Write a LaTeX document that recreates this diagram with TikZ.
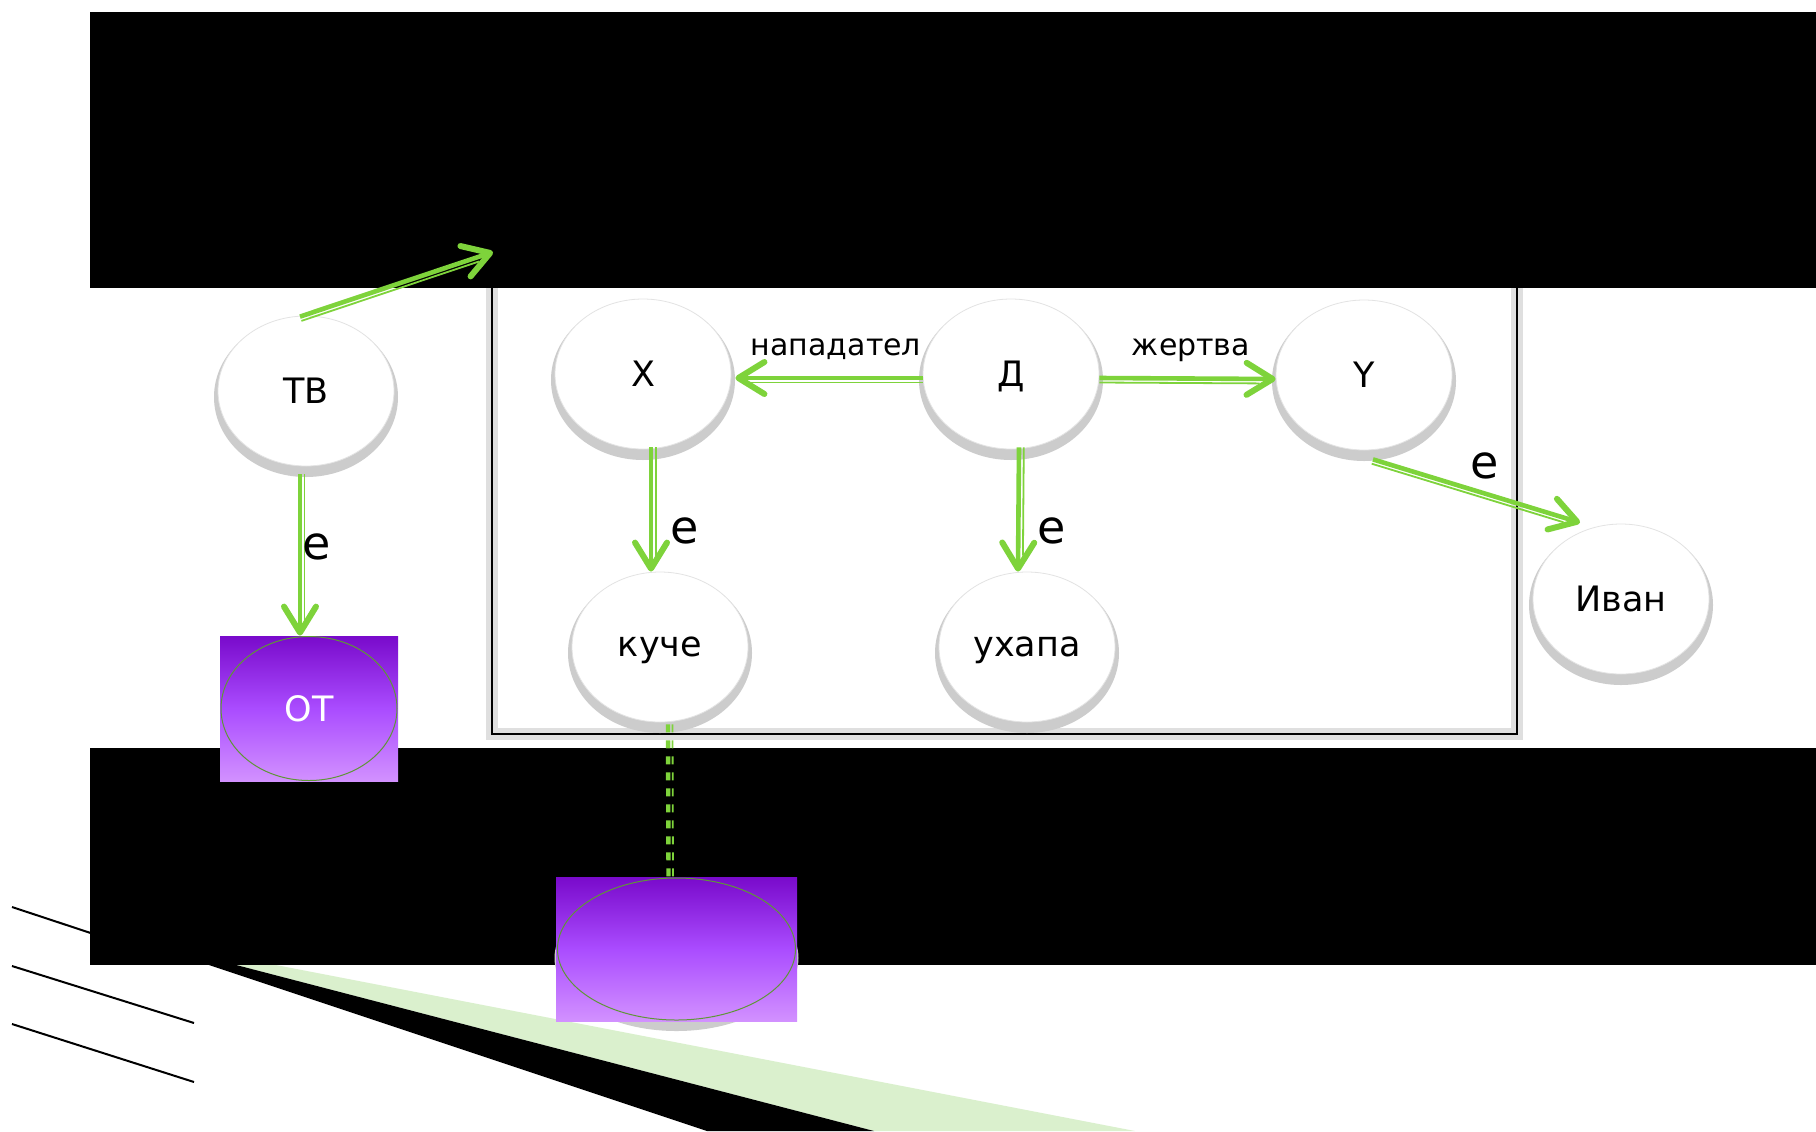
\documentclass[tikz,border=0pt]{standalone}
\usepackage{fontspec}
\setmainfont{DejaVu Sans}
\usetikzlibrary{arrows.meta,calc,shapes.geometric}

\definecolor{lgreen}{RGB}{126,211,59}
\definecolor{ringgreen}{RGB}{95,150,55}
\definecolor{pTop}{RGB}{121,10,203}
\definecolor{pMid}{RGB}{170,76,255}
\definecolor{pBot}{RGB}{210,145,255}
\definecolor{wedgegreen}{RGB}{218,240,205}

% a green link: a thick strand ending in a barb, with a thin companion strand
\newcommand\glink[3]{%
  \draw[linkmain] (#1) -- (#2);
  \draw[linkthin] ($(#1)+(#3)$) -- ($(#2)+(#3)$);
}
% a white bubble with its dotted shadow underneath
\newcommand\bubble[3]{%
  \fill[bubshadow] (#2) ++(0,6) ellipse [x radius=92, y radius=80];
  \node[bubble] (#1) at (#2) {#3};
}

\begin{document}
\begin{tikzpicture}[x=0.5pt,y=-0.5pt,
  bubble/.style={ellipse, fill=white, draw=gray!22, line width=0.4pt,
    minimum width=88pt, minimum height=75pt, inner sep=0pt, text depth=0pt,
    font=\fontsize{17.5}{20}\selectfont},
  bubshadow/.style={fill=gray!40},
  purplebox/.style={rectangle, inner sep=0pt, top color=pTop, bottom color=pBot,
    middle color=pMid, text=white, font=\fontsize{17.5}{20}\selectfont},
  ringline/.style={draw=ringgreen, line width=0.5pt},
  linkmain/.style={draw=lgreen, line width=2.3pt,
    -{Straight Barb[length=13pt, width=16pt, line width=3pt, round]}},
  linkthin/.style={draw=lgreen, line width=0.9pt, shorten >=8pt},
  dashmain/.style={draw=lgreen, line width=2.2pt, dash pattern=on 4pt off 4pt},
  dashthin/.style={draw=lgreen, line width=0.9pt, dash pattern=on 4pt off 4pt},
  edgelabel/.style={font=\fontsize{15}{18}\selectfont, anchor=base, inner sep=0pt},
  islabel/.style={font=\fontsize{23}{26}\selectfont, anchor=base, inner sep=0pt},
  diag/.style={draw=black, line width=1pt},
]
\useasboundingbox (0,0) rectangle (1816,1131);
\fill[white] (0,0) rectangle (1816,1131);

% slanted strips at the bottom left
\fill[wedgegreen] (217,960) -- (250,960) -- (1135,1131) -- (874,1131) -- cycle;
\fill[black] (194,960) -- (217,960) -- (874,1131) -- (707,1131) -- cycle;
\draw[diag] (12,907) -- (130,946);
\draw[diag] (12,966) -- (194,1023);
\draw[diag] (12,1024) -- (194,1082);

% frame around the central group
\draw[gray!25, line width=6pt] (492,280) rectangle (1517,734);
\draw[black, line width=0.8pt] (492,280) rectangle (1517,734);

% black bands
\fill[black] (90,12) rectangle (1816,288);
\fill[black] (90,748) rectangle (1816,965);

% bubbles
\bubble{TB}{306,391}{ТВ}
\bubble{X}{643,374}{X}
\bubble{D}{1011,374}{Д}
\bubble{Y}{1364,375}{Y}
\bubble{kuche}{660,647}{куче}
\bubble{uhapa}{1027,647}{ухапа}
\bubble{Ivan}{1621,599}{Иван}

% purple boxes
\node[purplebox, minimum width=89pt, minimum height=72.5pt] (OT) at (309,708.5) {ОТ};
\draw[ringline] (OT.center) ellipse [x radius=88, y radius=72];
\fill[bubshadow] (676.5,958) ellipse [x radius=122, y radius=73];
\node[purplebox, minimum width=120.5pt, minimum height=72pt] (box2) at (676.5,949) {};
\draw[ringline] (box2.center) ellipse [x radius=119, y radius=71];

% link end points
\coordinate (a1s) at ($(TB.north)+(-6,1)$);
\coordinate (tvend) at (493,252);
\coordinate (a2s) at ($(TB.south)+(-6,8)$);
\coordinate (a2e) at ($(OT.north)+(-9,0)$);
\coordinate (a3s) at ($(X.south)+(8,-2)$);
\coordinate (a3e) at ($(kuche.north)+(-9,0)$);
\coordinate (a4s) at ($(D.south)+(8,-2)$);
\coordinate (a4e) at ($(uhapa.north)+(-9,0)$);
\coordinate (a5s) at ($(D.west)+(0,4)$);
\coordinate (a5e) at ($(X.east)+(4,4)$);
\coordinate (a6s) at ($(D.east)+(0,4)$);
\coordinate (a6e) at ($(Y.west)+(0,4)$);
\coordinate (a7s) at ($(Y.south)+(9,9)$);
\coordinate (a7e) at ($(Ivan.north)+(-41,-1)$);
\coordinate (d1s) at ($(kuche.south)+(8,2)$);
\coordinate (d1e) at ($(box2.north)+(-8,0)$);

% links
\glink{a1s}{tvend}{1.4,4.3}
\glink{a2s}{a2e}{4.5,0}
\glink{a3s}{a3e}{4.8,0}
\glink{a4s}{a4e}{4.8,0}
\glink{a5s}{a5e}{0,4.5}
\glink{a6s}{a6e}{0,4.5}
\glink{a7s}{a7e}{-1.3,4.3}
\draw[dashmain] (d1s) -- (d1e);
\draw[dashthin] ($(d1s)+(4.5,0)$) -- ($(d1e)+(4.5,0)$);

% labels
\node[edgelabel] (lblatt) at (836,355) {нападател};
\node[edgelabel] (lblvic) at (1191,355) {жертва};
\node[islabel] (is1) at (317,559) {е};
\node[islabel] (is2) at (685,543) {е};
\node[islabel] (is3) at (1052,543) {е};
\node[islabel] (is4) at (1485,478) {е};
\end{tikzpicture}
\end{document}
